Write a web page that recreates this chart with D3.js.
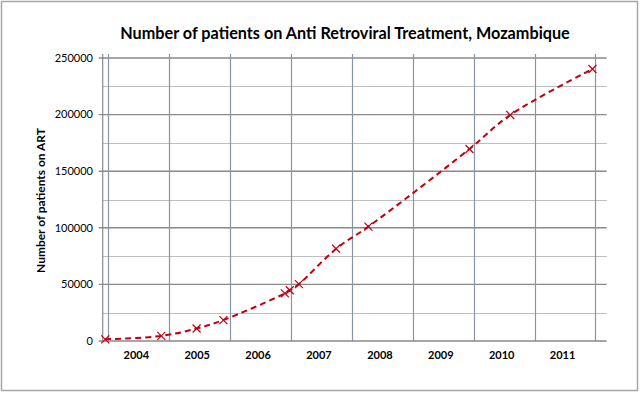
<!DOCTYPE html>
<html><head><meta charset="utf-8">
<script src="https://cdn.jsdelivr.net/npm/d3@7"></script>
<style>
html,body{margin:0;padding:0;background:#fff;}
svg{display:block;font-family:Lato,"Open Sans",sans-serif;}
</style></head>
<body>
<svg id="chart" width="640" height="394"></svg>
<script>
// Data (decimal years of each observation and patients on ART)
const obsYears = [2003.95, 2004.87, 2005.45, 2005.89, 2006.90, 2006.98, 2007.13, 2007.74, 2008.27, 2009.93, 2010.60, 2011.95];
const patients = [1500, 4500, 11000, 18500, 42100, 44800, 50200, 81500, 101000, 169600, 199650, 240300];
const yearLabels = [2004, 2005, 2006, 2007, 2008, 2009, 2010, 2011];
const yearGrid = [2004, 2005, 2006, 2007, 2008, 2009, 2010, 2011, 2012];
const yTicks = [0, 50000, 100000, 150000, 200000, 250000];
const yMinor = [25000, 75000, 125000, 175000, 225000];
const title = "Number of patients on Anti Retroviral Treatment, Mozambique";
const yTitle = "Number of patients on ART";

const svg = d3.select("#chart");
svg.append("rect").attr("x",1.5).attr("y",1.5).attr("width",636).attr("height",389)
  .attr("fill","#fff").attr("stroke","#a6a6a6").attr("stroke-width",1.5);

const pLeft = 102.7, pRight = 606.7, pTop = 58, pBottom = 341;
const x = d3.scaleLinear().domain([2003.908, 2012.184]).range([pLeft, pRight]);
const y = d3.scaleLinear().domain([0, 250000]).range([pBottom, pTop]);

// minor horizontal gridlines
svg.append("g").selectAll("line").data(yMinor).join("line")
  .attr("x1", pLeft).attr("x2", pRight)
  .attr("y1", d => Math.round(y(d)) + 0.5).attr("y2", d => Math.round(y(d)) + 0.5)
  .attr("stroke", "#bdbdbd").attr("stroke-width", 1);
// major horizontal gridlines
svg.append("g").selectAll("line").data(yTicks.filter(d => d > 0)).join("line")
  .attr("x1", pLeft - 4).attr("x2", pRight)
  .attr("y1", d => y(d)).attr("y2", d => y(d))
  .attr("stroke", "#8a8a8a").attr("stroke-width", 1.4);
// vertical gridlines
svg.append("g").selectAll("line").data(yearGrid).join("line")
  .attr("x1", d => Math.round(x(d)) + 0.5).attr("x2", d => Math.round(x(d)) + 0.5)
  .attr("y1", pTop - 4).attr("y2", pBottom)
  .attr("stroke", "#8796a6").attr("stroke-width", 1.2);

// axes lines
svg.append("line").attr("x1", pLeft).attr("x2", pLeft).attr("y1", pTop - 4).attr("y2", pBottom)
  .attr("stroke", "#8a8a8a").attr("stroke-width", 1.2);
svg.append("line").attr("x1", pLeft - 4).attr("x2", pRight).attr("y1", pBottom).attr("y2", pBottom)
  .attr("stroke", "#8a8a8a").attr("stroke-width", 1.4);

// y tick labels
svg.append("g").selectAll("text").data(yTicks).join("text")
  .attr("x", 93).attr("y", d => y(d)).attr("dy", "0.35em")
  .attr("text-anchor", "end").attr("font-size", 11).attr("fill", "#000")
  .text(d => d3.format("d")(d));

// x labels
svg.append("g").selectAll("text").data(yearLabels).join("text")
  .attr("x", d => x(d + 0.46)).attr("y", 355).attr("dy", "0.35em")
  .attr("text-anchor", "middle").attr("font-size", 11).attr("font-weight", "bold")
  .attr("fill", "#000").text(d => d);

// title
const t = svg.append("text").attr("x", 345).attr("y", 33).attr("dy", "0.35em")
  .attr("text-anchor", "middle").attr("font-size", 16).attr("font-weight", "bold")
  .attr("fill", "#000").text(title);
const tw = t.node().getComputedTextLength();
t.attr("font-size", 16 * 450 / tw);

// y title
const yt = svg.append("text").attr("transform", "translate(41,200.5) rotate(-90)")
  .attr("dy", "0.35em").attr("text-anchor", "middle").attr("font-size", 12)
  .attr("font-weight", "bold").attr("fill", "#000").text(yTitle);
const ytw = yt.node().getComputedTextLength();
yt.attr("font-size", 12 * 145 / ytw);

// line
const pts = obsYears.map((d, i) => [d, patients[i]]);
const line = d3.line().x(d => x(d[0])).y(d => y(d[1])).curve(d3.curveCatmullRom.alpha(0.5));
svg.append("path").attr("d", line(pts)).attr("fill", "none")
  .attr("stroke", "#c00010").attr("stroke-width", 2).attr("stroke-dasharray", "6,4");

// markers
const s = 4;
svg.append("g").selectAll("path").data(pts).join("path")
  .attr("d", d => {
    const cx = x(d[0]), cy = y(d[1]);
    return `M${cx-s},${cy-s}L${cx+s},${cy+s}M${cx-s},${cy+s}L${cx+s},${cy-s}`;
  })
  .attr("stroke", "#c00010").attr("stroke-width", 1.2).attr("fill", "none");
</script>
</body></html>
